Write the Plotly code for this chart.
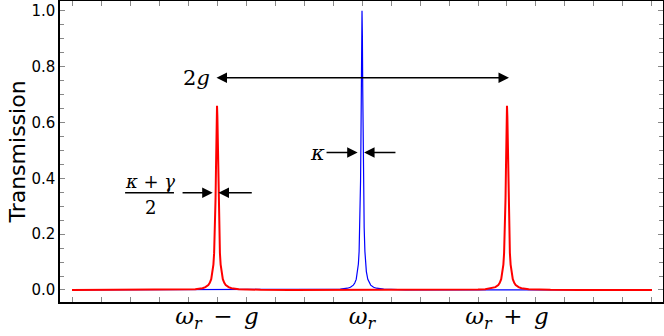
import plotly.graph_objects as go

# Blue: bare cavity transmission (single peak at omega_r), x in units of g
blue_x = [-2.0, -1.0, -0.5, -0.3, -0.2, -0.15, -0.1, -0.08, -0.06, -0.05, -0.04, -0.03, -0.025,
          -0.02, -0.015, -0.01, -0.0075, -0.005, -0.0025, 0.0, 0.0025, 0.005, 0.0075, 0.01, 0.015,
          0.02, 0.025, 0.03, 0.04, 0.05, 0.06, 0.08, 0.1, 0.15, 0.2, 0.3, 0.5, 1.0, 2.0]
blue_y = [0.0, 0.0001, 0.0003, 0.0007, 0.0016, 0.0028, 0.0064, 0.0099, 0.0175, 0.025, 0.038, 0.066, 0.093,
          0.138, 0.222, 0.39, 0.53, 0.72, 0.91, 1.0, 0.91, 0.72, 0.53, 0.39, 0.222,
          0.138, 0.093, 0.066, 0.038, 0.025, 0.0175, 0.0099, 0.0064, 0.0028, 0.0016, 0.0007, 0.0003, 0.0001, 0.0]

# Red: vacuum Rabi split transmission (peaks at omega_r +/- g)
red_x = [-2.0, -1.5, -1.3, -1.2, -1.15, -1.1, -1.08, -1.06, -1.05, -1.04, -1.03, -1.025, -1.02, -1.015,
         -1.01, -1.0075, -1.005, -1.0025, -1.0, -0.9975, -0.995, -0.9925, -0.99, -0.985, -0.98, -0.975,
         -0.97, -0.96, -0.95, -0.94, -0.92, -0.9, -0.85, -0.8, -0.7, -0.5, 0.0,
         0.5, 0.7, 0.8, 0.85, 0.9, 0.92, 0.94, 0.95, 0.96, 0.97, 0.975, 0.98, 0.985, 0.99, 0.9925,
         0.995, 0.9975, 1.0, 1.0025, 1.005, 1.0075, 1.01, 1.015, 1.02, 1.025, 1.03, 1.04, 1.05, 1.06,
         1.08, 1.1, 1.15, 1.2, 1.3, 1.5, 2.0]
red_y = [0.0001, 0.0003, 0.0007, 0.0016, 0.0029, 0.0065, 0.0101, 0.0178, 0.0254, 0.0388, 0.066, 0.091, 0.132, 0.203,
         0.33, 0.422, 0.528, 0.621, 0.66, 0.621, 0.528, 0.422, 0.33, 0.203, 0.132, 0.091,
         0.066, 0.0388, 0.0254, 0.0178, 0.0101, 0.0065, 0.0029, 0.0016, 0.0007, 0.0003, 0.0002,
         0.0003, 0.0007, 0.0016, 0.0029, 0.0065, 0.0101, 0.0178, 0.0254, 0.0388, 0.066, 0.091, 0.132, 0.203, 0.33, 0.422,
         0.528, 0.621, 0.66, 0.621, 0.528, 0.422, 0.33, 0.203, 0.132, 0.091, 0.066, 0.0388, 0.0254, 0.0178,
         0.0101, 0.0065, 0.0029, 0.0016, 0.0007, 0.0003, 0.0001]

x_tick_vals = [-1, 0, 1]
x_tick_text = ["<i>ω<sub>r</sub></i>\u2002−\u2002<i>g</i>", "<i>ω<sub>r</sub></i>",
               "<i>ω<sub>r</sub></i>\u2002+\u2002<i>g</i>"]
y_tick_vals = [0.0, 0.2, 0.4, 0.6, 0.8, 1.0]
y_tick_text = ["0.0", "0.2", "0.4", "0.6", "0.8", "1.0"]

SERIF = "DejaVu Serif"
SANS = "DejaVu Sans"

fig = go.Figure()
fig.add_trace(go.Scatter(x=blue_x, y=blue_y, mode="lines", line=dict(color="#0000ff", width=1.2),
                         showlegend=False, hoverinfo="skip"))
fig.add_trace(go.Scatter(x=red_x, y=red_y, mode="lines", line=dict(color="#ff0000", width=2),
                         showlegend=False, hoverinfo="skip"))

def arrow(x_head, x_tail, y, both=False):
    return dict(x=x_head, y=y, ax=x_tail, ay=y, xref="x", yref="y", axref="x", ayref="y",
                text="", showarrow=True, arrowhead=2, arrowsize=1.4, arrowwidth=1.5,
                arrowcolor="black", standoff=0, startstandoff=0,
                arrowside="end+start" if both else "end", startarrowhead=2, startarrowsize=1.4)

annotations = [
    arrow(1.014, -1.014, 0.76, both=True),
    arrow(-0.03, -0.255, 0.492),
    arrow(0.014, 0.241, 0.492),
    arrow(-1.03, -1.248, 0.348),
    arrow(-0.99, -0.75, 0.348),
    dict(x=-1.14, y=0.76, xref="x", yref="y", text="2<i>g</i>", showarrow=False,
         font=dict(family=SERIF, size=21, color="black"), xanchor="center", yanchor="middle"),
    dict(x=-0.31, y=0.492, xref="x", yref="y", text="<i>κ</i>", showarrow=False,
         font=dict(family=SERIF, size=21, color="black"), xanchor="center", yanchor="middle"),
    dict(x=-1.462, y=0.39, xref="x", yref="y", text="<i>κ</i> + <i>γ</i>", showarrow=False,
         font=dict(family=SERIF, size=18, color="black"), xanchor="center", yanchor="middle"),
    dict(x=-1.462, y=0.295, xref="x", yref="y", text="2", showarrow=False,
         font=dict(family=SERIF, size=18, color="black"), xanchor="center", yanchor="middle"),
]

fig.add_shape(type="line", x0=-1.634, x1=-1.297, y0=0.348, y1=0.348, xref="x", yref="y",
              line=dict(color="black", width=1.5))

fig.update_layout(
    width=664, height=336,
    margin=dict(l=60, r=1, t=1, b=34),
    paper_bgcolor="white", plot_bgcolor="white",
    annotations=annotations,
    xaxis=dict(range=[-2.083, 2.076], tickmode="array", tickvals=x_tick_vals, ticktext=x_tick_text,
               ticks="inside", ticklen=5, tickcolor="#888888", tickwidth=1, automargin=False,
               minor=dict(tick0=0, dtick=0.2, ticks="inside", ticklen=5, tickcolor="#888888"),
               showgrid=False, zeroline=False, showline=True, linecolor="black", linewidth=1.5,
               mirror="ticks", ticklabelstandoff=-7,
               tickfont=dict(family=SERIF, size=23, color="black")),
    yaxis=dict(range=[-0.043, 1.035], tickmode="array", tickvals=y_tick_vals, ticktext=y_tick_text,
               ticks="inside", ticklen=5, tickcolor="#888888", tickwidth=1, automargin=False,
               minor=dict(tick0=0, dtick=0.05, ticks="inside", ticklen=4, tickcolor="#888888"),
               showgrid=False, zeroline=False, showline=True, linecolor="black", linewidth=1.5,
               mirror="ticks", tickfont=dict(family=SANS, size=15, color="black"),
               title=dict(text="Transmission", font=dict(family=SANS, size=22, color="black"), standoff=0)),
)

fig.write_html("out.html", config={"displayModeBar": False},
               post_script="document.body.style.margin='0';document.body.style.padding='0';"
                           "document.body.style.overflow='hidden';")
